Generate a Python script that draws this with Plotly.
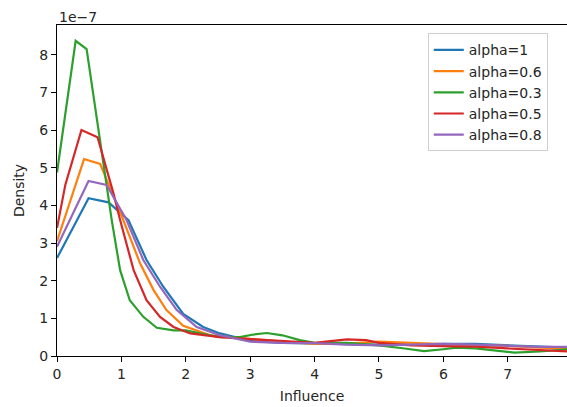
import plotly.graph_objects as go

SCALE = 1e-7  # offset label "1e-7"

labels = ["alpha=1", "alpha=0.6", "alpha=0.3", "alpha=0.5", "alpha=0.8"]
colors = ["#1f77b4", "#ff7f0e", "#2ca02c", "#d62728", "#9467bd"]

# values in units of 1e-7
x_a1 = [0, 0.49, 0.80, 1.11, 1.39, 1.65, 1.96, 2.27, 2.53, 3.0, 3.5, 4.0, 4.5, 5.0, 5.5, 6.0, 6.5, 7.0, 7.5, 7.95]
y_a1 = [2.6, 4.19, 4.08, 3.61, 2.55, 1.84, 1.12, 0.77, 0.6, 0.4, 0.35, 0.33, 0.3, 0.3, 0.3, 0.32, 0.32, 0.28, 0.24, 0.22]

x_a06 = [0, 0.42, 0.67, 1.03, 1.29, 1.5, 1.70, 1.96, 2.38, 3.0, 3.5, 4.0, 4.5, 5.0, 5.5, 6.0, 6.5, 7.0, 7.5, 7.95]
y_a06 = [3.05, 5.23, 5.10, 3.61, 2.46, 1.75, 1.22, 0.8, 0.55, 0.45, 0.38, 0.32, 0.33, 0.38, 0.35, 0.3, 0.28, 0.27, 0.22, 0.2]

x_a03 = [0, 0.29, 0.46, 0.65, 0.85, 0.98, 1.13, 1.34, 1.55, 1.81, 2.0, 2.22, 2.53, 2.84, 3.05, 3.26, 3.5, 3.77, 4.0, 4.5, 5.0, 5.4, 5.7, 6.0, 6.2, 6.5, 6.8, 7.1, 7.5, 7.95]
y_a03 = [4.87, 8.37, 8.15, 5.9, 3.61, 2.28, 1.48, 1.04, 0.75, 0.68, 0.68, 0.6, 0.5, 0.5, 0.57, 0.61, 0.55, 0.42, 0.35, 0.35, 0.28, 0.2, 0.13, 0.18, 0.22, 0.2, 0.14, 0.09, 0.12, 0.18]

x_a05 = [0, 0.13, 0.38, 0.63, 0.88, 0.98, 1.19, 1.39, 1.60, 1.81, 2.07, 2.53, 3.0, 3.5, 4.0, 4.5, 4.8, 5.0, 5.5, 6.0, 6.5, 7.0, 7.5, 7.95]
y_a05 = [3.4, 4.55, 6.0, 5.81, 4.3, 3.61, 2.28, 1.48, 1.04, 0.77, 0.6, 0.5, 0.45, 0.4, 0.35, 0.44, 0.42, 0.35, 0.28, 0.26, 0.25, 0.2, 0.15, 0.12]

x_a08 = [0, 0.49, 0.77, 1.08, 1.34, 1.6, 1.86, 2.17, 2.53, 3.0, 3.5, 4.0, 4.5, 5.0, 5.5, 6.0, 6.5, 7.0, 7.5, 7.95]
y_a08 = [2.9, 4.65, 4.54, 3.61, 2.55, 1.84, 1.22, 0.77, 0.55, 0.38, 0.35, 0.34, 0.3, 0.28, 0.3, 0.32, 0.3, 0.27, 0.24, 0.24]

series_x = [x_a1, x_a06, x_a03, x_a05, x_a08]
series_y = [y_a1, y_a06, y_a03, y_a05, y_a08]

x_ticks = [0, 1, 2, 3, 4, 5, 6, 7]
y_ticks = [0, 1, 2, 3, 4, 5, 6, 7, 8]

FONT = "DejaVu Sans"

fig = go.Figure()
for lab, col, xs, ys in zip(labels, colors, series_x, series_y):
    fig.add_trace(go.Scatter(
        x=xs, y=[v * SCALE for v in ys], mode="lines", name=lab,
        line=dict(color=col, width=2.2),
    ))

fig.update_layout(
    width=567, height=407,
    margin=dict(l=57, r=0, t=25, b=51, autoexpand=False),
    paper_bgcolor="white", plot_bgcolor="white",
    font=dict(family=FONT, size=14, color="#262626"),
    showlegend=True,
    legend=dict(
        x=0.727, y=0.975, xanchor="left", yanchor="top",
        bordercolor="#d0d0d0", borderwidth=1, bgcolor="rgba(255,255,255,0.8)",
        font=dict(family=FONT, size=14, color="#262626"),
        tracegroupgap=0,
    ),
    xaxis=dict(
        range=[0, 7.92], tickvals=x_ticks, ticktext=[str(t) for t in x_ticks],
        showgrid=False, zeroline=False, showline=True, linecolor="black", linewidth=1,
        mirror=True, ticks="outside", ticklen=5, tickcolor="black", automargin=False,
        title=dict(text="Influence", font=dict(family=FONT, size=14), standoff=10),
    ),
    yaxis=dict(
        range=[0, 8.79 * SCALE], tickvals=[t * SCALE for t in y_ticks],
        ticktext=[str(t) for t in y_ticks],
        showgrid=False, zeroline=False, showline=True, linecolor="black", linewidth=1,
        ticks="outside", ticklen=5, tickcolor="black", automargin=False,
        title=dict(text="Density", font=dict(family=FONT, size=14), standoff=11),
    ),
)

fig.add_annotation(
    text="1e\u22127", xref="paper", yref="paper", x=0, y=1, xanchor="left", yanchor="bottom",
    showarrow=False, font=dict(family=FONT, size=14, color="#262626"), yshift=-2,
)

fig.write_html(
    "out.html",
    config={"displayModeBar": False},
    post_script="document.body.style.margin='0';document.body.style.overflow='hidden';",
)
